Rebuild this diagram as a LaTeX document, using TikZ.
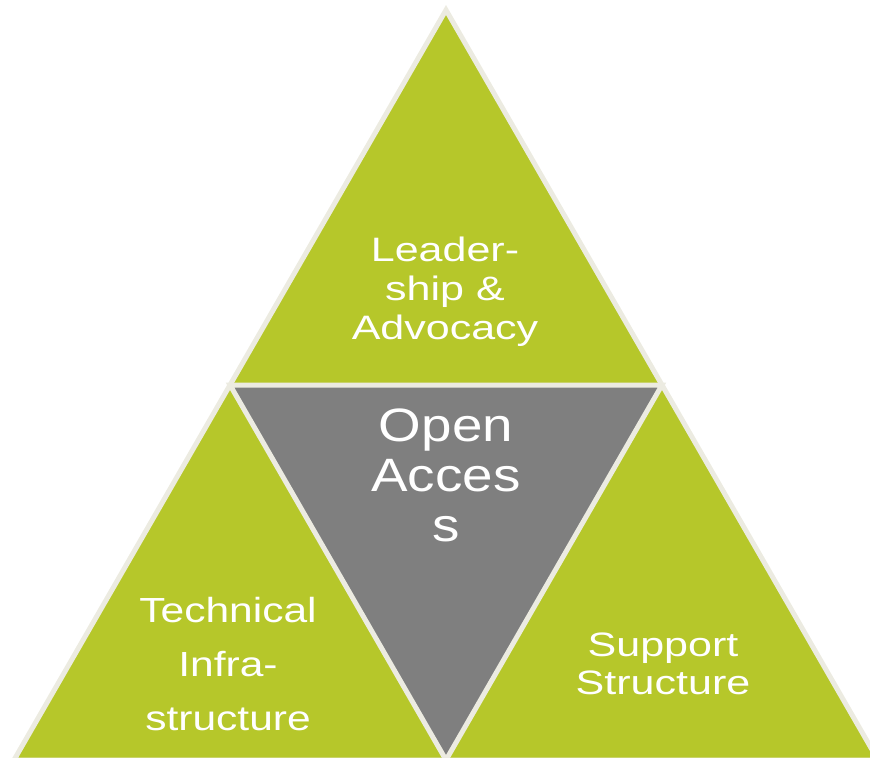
\documentclass[tikz,border=0pt]{standalone}
\usepackage{fontspec}
\newfontfamily\wideA[FakeStretch=1.27]{Liberation Sans}
\newfontfamily\wideB[FakeStretch=1.22]{Liberation Sans}
\newfontfamily\wideC[FakeStretch=1.17]{Liberation Sans}
\definecolor{leaf}{HTML}{B6C72A}
\definecolor{core}{HTML}{7F7F7F}
\definecolor{rim}{HTML}{ECEBE1}
\tikzset{
  facet/.style={draw=rim, line width=5bp, line join=miter},
  lbl/.style={text=white, align=center, inner sep=0pt, anchor=north}
}
\begin{document}
\begin{tikzpicture}[x=1bp,y=-1bp]
\useasboundingbox (0,0) rectangle (870,758);
\begin{scope}
\clip (0,0) rectangle (870,758);
\coordinate (apex) at (446,10);
\coordinate (ml) at (230,385);
\coordinate (mr) at (662,385);
\coordinate (bl) at (14,760);
\coordinate (br) at (878,760);
\coordinate (bm) at (446,760);
\fill[leaf] (apex) -- (ml) -- (mr) -- cycle;
\fill[leaf] (ml) -- (bl) -- (bm) -- cycle;
\fill[leaf] (mr) -- (bm) -- (br) -- cycle;
\fill[core] (ml) -- (mr) -- (bm) -- cycle;
\draw[facet] (apex) -- (bl) -- (br) -- cycle;
\draw[facet] (ml) -- (mr) -- (bm) -- cycle;
\end{scope}
\node[lbl, font=\wideA\fontsize{34}{39}\selectfont] (lead) at (445,237) {Leader-\\ship \&\\Advocacy};
\node[lbl, font=\wideC\fontsize{47}{50}\selectfont] (oa) at (446,409) {Open\\Acces\\s};
\node[lbl, font=\wideB\fontsize{35}{54}\selectfont] (tech) at (228,597) {Technical\\Infra-\\structure};
\node[lbl, font=\wideA\fontsize{34}{38}\selectfont] (supp) at (663,633) {Support\\Structure};
\end{tikzpicture}
\end{document}
